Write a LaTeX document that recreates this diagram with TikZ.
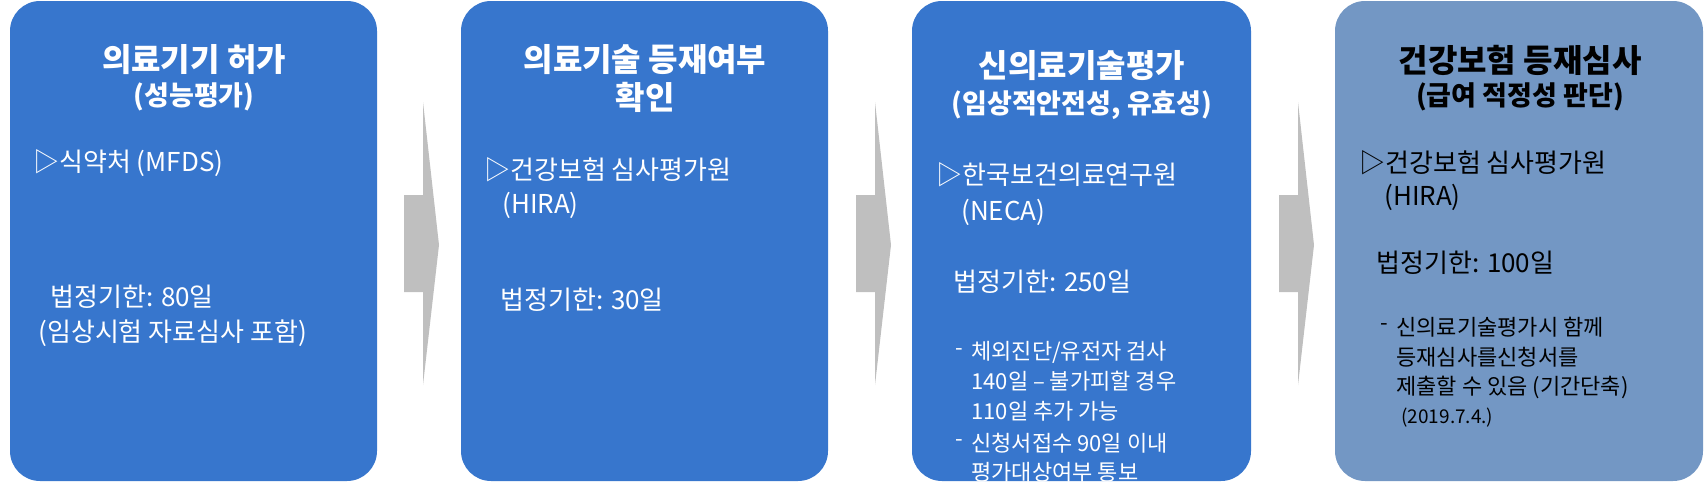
\documentclass[tikz,border=0pt]{standalone}
\usepackage{fontspec}
\setmainfont{Noto Sans CJK KR}
\begin{document}
\begin{tikzpicture}[x=0.5pt,y=-0.5pt,
 box/.style={rounded corners=15pt,draw=none},
 ttl/.style={font=\fontsize{16}{18}\selectfont\bfseries,anchor=center,inner sep=0},
 sub/.style={font=\fontsize{13.5}{15}\selectfont\bfseries,anchor=center,inner sep=0},
 bd/.style={font=\fontsize{13}{15}\selectfont,anchor=west,inner sep=0},
 sm/.style={font=\fontsize{11}{13}\selectfont,anchor=west,inner sep=0},
 arr/.style={fill=gray!50,draw=none}]
\useasboundingbox (0,0) rectangle (1707,482);
\definecolor{bb}{HTML}{3776CD}
\definecolor{gb}{HTML}{7397C4}
\fill[box,bb] (10,1) rectangle (377,481);
\fill[box,bb] (461,1) rectangle (828,481);
\fill[box,bb] (912,1) rectangle (1251,481);
\fill[box,gb] (1335,1) rectangle (1703,481);
\foreach \d in {0,452,875}{
 \fill[arr] (404+\d,195) -- (423+\d,195) -- (423+\d,102) -- (439+\d,245) -- (423+\d,385) -- (423+\d,292) -- (404+\d,292) -- cycle;}
\begin{scope}[white]
\node[ttl] (t1) at (194,60) {의료기기 허가};
\node[sub] (s1) at (194,97) {(성능평가)};
\node[bd] (a1) at (33,163) {▷식약처 (MFDS)};
\node[bd] (b1) at (50,297) {법정기한: 80일};
\node[bd] (c1) at (38,333) {(임상시험 자료심사 포함)};
\node[ttl] (t2) at (645,60) {의료기술 등재여부};
\node[ttl] (s2) at (645,97) {확인};
\node[bd] (a2) at (484,170) {▷건강보험 심사평가원};
\node[bd] (a2b) at (502,205) {(HIRA)};
\node[bd] (b2) at (500,300) {법정기한: 30일};
\node[ttl] (t3) at (1082,66) {신의료기술평가};
\node[sub] (s3) at (1082,105) {(임상적안전성, 유효성)};
\node[bd] (a3) at (936,175) {▷한국보건의료연구원};
\node[bd] (a3b) at (961,212) {(NECA)};
\node[bd] (b3) at (953,282) {법정기한: 250일};
\node[sm] (d3a) at (955,352) {-};
\node[sm] (e3a) at (971,352) {체외진단/유전자 검사};
\node[sm] (e3b) at (971,381) {140일 – 불가피할 경우};
\node[sm] (e3c) at (971,411) {110일 추가 가능};
\node[sm] (d3b) at (955,443) {-};
\node[sm] (e3d) at (971,443) {신청서접수 90일 이내};
\node[sm] (e3e) at (971,472) {평가대상여부 통보};
\end{scope}
\begin{scope}[black]
\node[ttl] (t4) at (1520,60) {건강보험 등재심사};
\node[sub] (s4) at (1520,97) {(급여 적정성 판단)};
\node[bd] (a4) at (1359,163) {▷건강보험 심사평가원};
\node[bd] (a4b) at (1384,197) {(HIRA)};
\node[bd] (b4) at (1376,263) {법정기한: 100일};
\node[sm] (d4) at (1380,327) {-};
\node[sm] (e4a) at (1396,327) {신의료기술평가시 함께};
\node[sm] (e4b) at (1396,357) {등재심사를신청서를};
\node[sm] (e4c) at (1396,387) {제출할 수 있음 (기간단축)};
\node[sm,font=\fontsize{9.5}{11}\selectfont] (e4d) at (1401,418) {(2019.7.4.)};
\end{scope}
\end{tikzpicture}
\end{document}
